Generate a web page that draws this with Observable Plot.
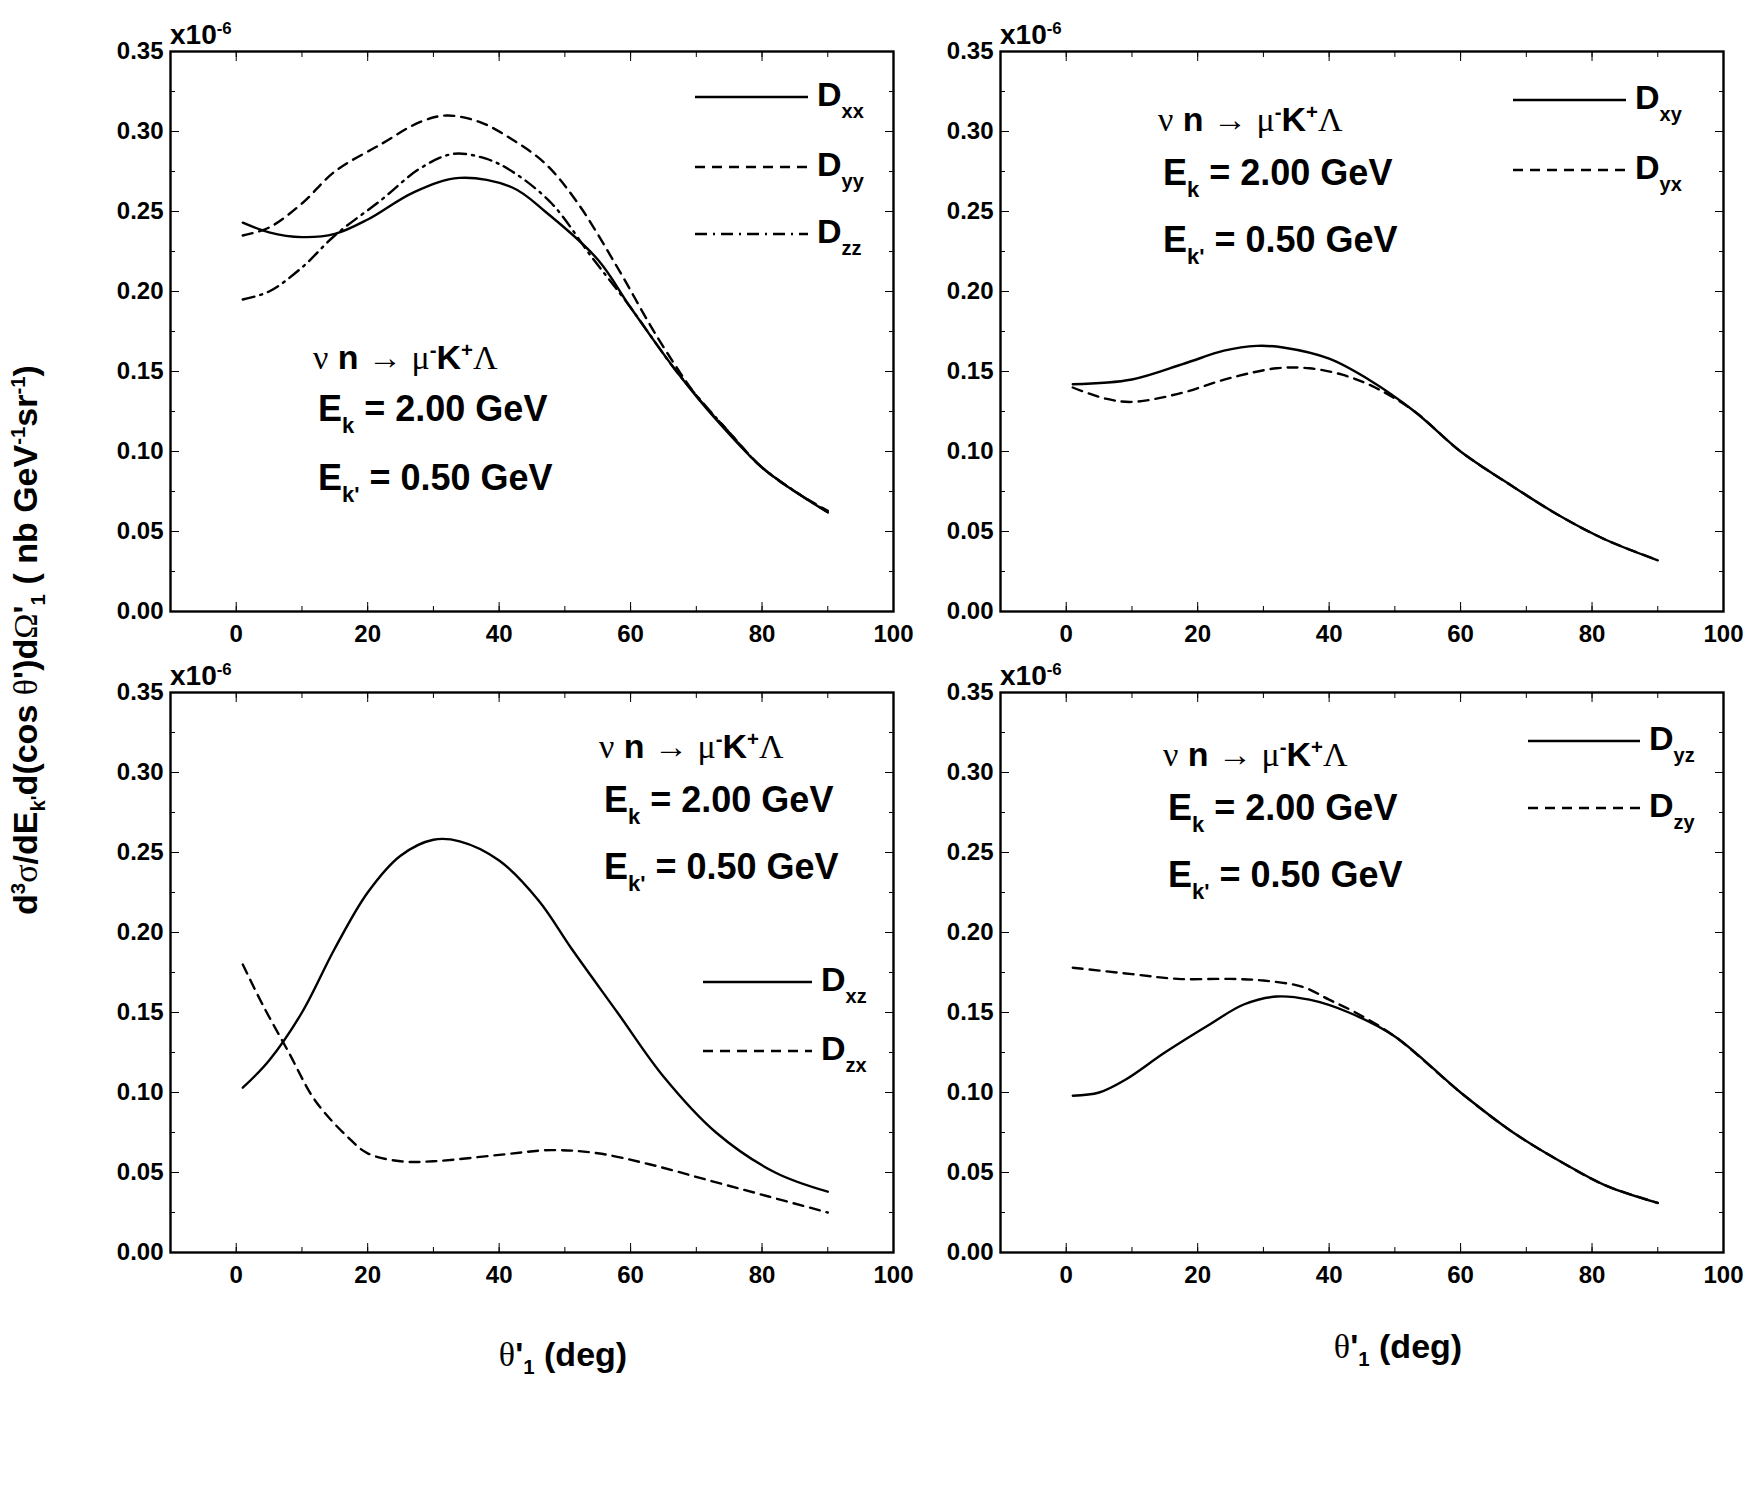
<!DOCTYPE html>
<html><head><meta charset="utf-8">
<script src="https://cdn.jsdelivr.net/npm/d3@7"></script>
<script src="https://cdn.jsdelivr.net/npm/@observablehq/plot@0.6"></script>
<style>
body{margin:0;background:#fff;font-family:"Liberation Sans",Arial,sans-serif;font-weight:bold}
#c{position:relative;width:1755px;height:1509px}
.a{position:absolute;white-space:nowrap;font-weight:bold;color:#000;line-height:1}
.sym{font-family:"Liberation Serif",serif;font-weight:normal}
sub,sup{font-size:60%}
</style></head><body><div id="c"></div>
<script>
const xDxx=[1,5,10,15,20,27,34,42,47,55,60,67,73,80,85,90];
const Dxx=[0.243,0.237,0.234,0.236,0.245,0.262,0.271,0.265,0.250,0.220,0.190,0.150,0.120,0.090,0.075,0.062];
const xDyy=[1,5,10,15,22,28,32,37,42,47,52,58,64,70,75,80,85,90];
const Dyy=[0.235,0.240,0.255,0.275,0.292,0.306,0.310,0.306,0.295,0.280,0.255,0.215,0.172,0.135,0.112,0.090,0.075,0.063];
const xDzz=[1,5,10,15,22,28,33,38,42,48,54,60,67,75,80,90];
const Dzz=[0.195,0.200,0.215,0.235,0.257,0.277,0.286,0.283,0.275,0.255,0.222,0.190,0.150,0.112,0.090,0.062];
const xDxy=[1,10,18,24,29,33,40,46,53,60,68,75,82,90];
const Dxy=[0.142,0.145,0.155,0.163,0.166,0.165,0.158,0.145,0.125,0.100,0.078,0.060,0.045,0.032];
const xDyx=[1,6,10,17,25,32,37,42,47,53,60,68,75,82,90];
const Dyx=[0.140,0.133,0.131,0.136,0.146,0.152,0.152,0.148,0.140,0.125,0.100,0.078,0.060,0.045,0.032];
const xDxz=[1,5,10,15,20,25,30,34,40,46,51,58,65,73,82,90];
const Dxz=[0.103,0.120,0.150,0.190,0.225,0.248,0.258,0.257,0.245,0.220,0.190,0.150,0.110,0.075,0.050,0.038];
const xDzx=[1,4,8,12,17,20,25,30,40,48,55,63,72,81,90];
const Dzx=[0.180,0.155,0.125,0.095,0.072,0.062,0.057,0.057,0.061,0.064,0.062,0.055,0.045,0.035,0.025];
const xDyz=[1,5,9,15,22,27,32,37,43,50,60,68,76,82,90];
const Dyz=[0.098,0.100,0.108,0.125,0.143,0.155,0.160,0.158,0.150,0.135,0.100,0.075,0.055,0.042,0.031];
const xDzy=[1,10,17,25,30,36,40,44,50,60,68,76,82,90];
const Dzy=[0.178,0.174,0.171,0.171,0.170,0.166,0.158,0.150,0.135,0.100,0.075,0.055,0.042,0.031];
const xTicks=[0,20,40,60,80,100];
const yTicks=[0,0.05,0.1,0.15,0.2,0.25,0.3,0.35];

const DASH={solid:null,dash:"10,7",dashdot:"12,6,2,6"};
const c=document.getElementById("c");
const none=()=>"";
function panel(left,top,series){
  const ml=80,mt=10,mr=10,mb=50;
  const tbl=s=>s.x.map((x,i)=>({x,y:s.y[i]}));
  const marks=[];
  for(const s of series) marks.push(Plot.line(tbl(s),{x:"x",y:"y",curve:"catmull-rom",stroke:"#000",strokeWidth:2.4,strokeDasharray:DASH[s.style]}));
  const minorX=d3.range(-10,101,10), minorY=d3.range(0,0.351,0.025);
  marks.push(
    Plot.frame({stroke:"#000",strokeWidth:2.4}),
    Plot.axisX({ticks:xTicks,tickSize:-9,tickPadding:22,tickFormat:d=>d,fontSize:24,fontWeight:"bold",label:null}),
    Plot.axisX({ticks:minorX,tickSize:-5,tickFormat:none,label:null}),
    Plot.axisX({anchor:"top",ticks:xTicks,tickSize:-9,tickFormat:none,label:null}),
    Plot.axisX({anchor:"top",ticks:minorX,tickSize:-5,tickFormat:none,label:null}),
    Plot.axisY({ticks:yTicks,tickSize:-9,tickPadding:16,tickFormat:d=>d.toFixed(2),fontSize:24,fontWeight:"bold",label:null}),
    Plot.axisY({ticks:minorY,tickSize:-5,tickFormat:none,label:null}),
    Plot.axisY({anchor:"right",ticks:yTicks,tickSize:-9,tickFormat:none,label:null}),
    Plot.axisY({anchor:"right",ticks:minorY,tickSize:-5,tickFormat:none,label:null})
  );
  const p=Plot.plot({width:723+ml+mr,height:560+mt+mb,marginLeft:ml,marginTop:mt,marginRight:mr,marginBottom:mb,
    x:{domain:[-10,100]},y:{domain:[0,0.35]},style:{fontFamily:"Liberation Sans, Arial, sans-serif",color:"#000",overflow:"visible"},marks});
  p.style.position="absolute";p.style.left=(left-ml)+"px";p.style.top=(top-mt)+"px";
  c.appendChild(p);
  div(left,top-16,'x10<sup>-6</sup>',28,"transform:translateY(-50%)");
}
function div(x,y,html,fs,extra){const d=document.createElement("div");d.className="a";d.style.left=x+"px";d.style.top=y+"px";d.style.fontSize=fs+"px";d.innerHTML=html;if(extra)d.style.cssText+=extra;c.appendChild(d);}
function legend(x1,x2,y,style,sub){
  const s=document.createElementNS("http://www.w3.org/2000/svg","svg");
  s.setAttribute("width",x2-x1);s.setAttribute("height",10);s.style.cssText=`position:absolute;left:${x1}px;top:${y-5}px`;
  s.innerHTML=`<line x1="0" x2="${x2-x1}" y1="5" y2="5" stroke="#000" stroke-width="2.4" ${DASH[style]?`stroke-dasharray="${DASH[style]}"`:""}/>`;
  c.appendChild(s);
  div(x2+9,y-20,`D<sub style="font-size:20px;vertical-align:-12px">${sub}</sub>`,34);
}
function annot(x,y1,y2,y3){
  div(x-5,y1-20,'<span class="sym">ν</span> n <span class="sym">→</span> <span class="sym">μ</span><sup>-</sup>K<sup>+</sup><span class="sym">Λ</span>',34);
  div(x,y2-20,'E<sub style="font-size:22px;vertical-align:-12px">k</sub> = 2.00 GeV',36);
  div(x,y3-20,"E<sub style=\"font-size:22px;vertical-align:-12px\">k'</sub> = 0.50 GeV",36);
}
panel(170,51,[{x:xDxx,y:Dxx,style:"solid"},{x:xDyy,y:Dyy,style:"dash"},{x:xDzz,y:Dzz,style:"dashdot"}]);
panel(1000,51,[{x:xDxy,y:Dxy,style:"solid"},{x:xDyx,y:Dyx,style:"dash"}]);
panel(170,692,[{x:xDxz,y:Dxz,style:"solid"},{x:xDzx,y:Dzx,style:"dash"}]);
panel(1000,692,[{x:xDyz,y:Dyz,style:"solid"},{x:xDzy,y:Dzy,style:"dash"}]);
legend(695,808,97,"solid","xx");legend(695,808,167,"dash","yy");legend(695,808,234,"dashdot","zz");
legend(1513,1626,100,"solid","xy");legend(1513,1626,170,"dash","yx");
legend(703,812,982,"solid","xz");legend(703,812,1051,"dash","zx");
legend(1528,1640,741,"solid","yz");legend(1528,1640,808,"dash","zy");
annot(318,360,411,480);
annot(1163,122,175,242);
annot(604,749,802,869);
annot(1168,757,810,877);
div(28,640,"d<sup>3</sup><span class=\"sym\">σ</span>/dE<sub>k'</sub>d(cos <span class=\"sym\">θ</span>')d<span class=\"sym\">Ω</span>'<sub>1</sub> ( nb GeV<sup>-1</sup>sr<sup>-1</sup>)",34,"transform:translate(-50%,-50%) rotate(-90deg)");
div(563,1357,"<span class=\"sym\">θ</span>'<sub>1</sub> (deg)",34,"transform:translate(-50%,-50%)");
div(1398,1349,"<span class=\"sym\">θ</span>'<sub>1</sub> (deg)",34,"transform:translate(-50%,-50%)");
</script></body></html>
